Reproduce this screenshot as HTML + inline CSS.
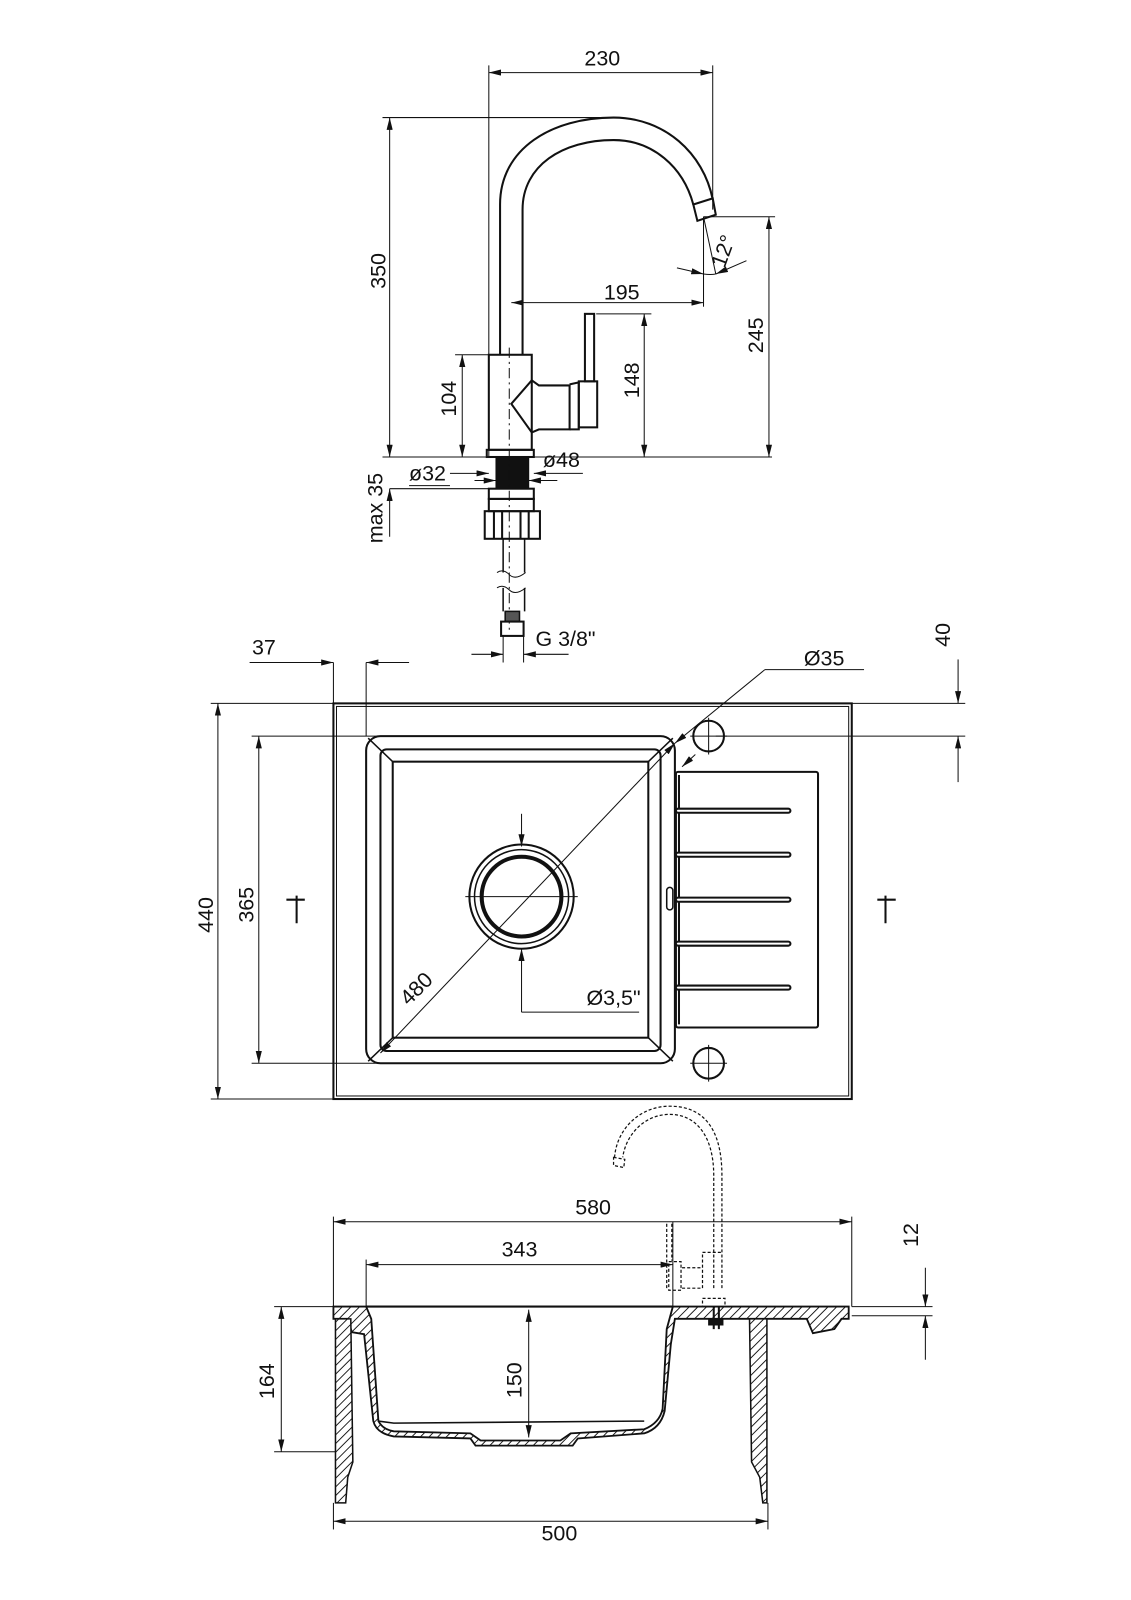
<!DOCTYPE html>
<html><head><meta charset="utf-8"><style>
html,body{margin:0;padding:0;background:#fff;}
svg{display:block}
text{font-family:"Liberation Sans Narrow","Liberation Sans",sans-serif;font-size:21px;fill:#111}
</style></head><body>
<svg width="1131" height="1600" viewBox="0 0 1106 1565" xmlns="http://www.w3.org/2000/svg">
<defs>
<marker id="a" viewBox="0 0 12 6" refX="12" refY="3" markerWidth="12" markerHeight="6" orient="auto-start-reverse" markerUnits="userSpaceOnUse"><path d="M0,0 L12,3 L0,6z" fill="#111"/></marker>
<pattern id="h" width="6" height="6" patternUnits="userSpaceOnUse" patternTransform="rotate(45)"><rect width="6" height="6" fill="#fff"/><line x1="0" y1="0" x2="0" y2="6" stroke="#111" stroke-width="1.8"/></pattern>
</defs>
<g fill="none" stroke="#111" stroke-width="1">
<!-- ===== FAUCET ===== -->
<line x1="478" y1="71" x2="697" y2="71" marker-start="url(#a)" marker-end="url(#a)"/>
<line x1="478" y1="64" x2="478" y2="447"/><line x1="697" y1="64" x2="697" y2="205"/>
<line x1="381" y1="115" x2="381" y2="447" marker-start="url(#a)" marker-end="url(#a)"/>
<line x1="374" y1="115" x2="605" y2="115"/>
<line x1="374" y1="447" x2="755" y2="447"/>
<line x1="452" y1="347" x2="452" y2="447" marker-start="url(#a)" marker-end="url(#a)"/>
<line x1="445" y1="347" x2="478" y2="347"/>
<line x1="630" y1="307" x2="630" y2="447" marker-start="url(#a)" marker-end="url(#a)"/>
<line x1="583" y1="307" x2="637" y2="307"/>
<line x1="752" y1="212" x2="752" y2="447" marker-start="url(#a)" marker-end="url(#a)"/>
<line x1="688" y1="212" x2="758" y2="212"/>
<line x1="500" y1="296" x2="688" y2="296" marker-start="url(#a)" marker-end="url(#a)"/>
<line x1="688" y1="212" x2="688" y2="300"/>
<line x1="688" y1="212" x2="700" y2="268"/>
<path d="M662,262 L688,268" marker-end="url(#a)"/>
<path d="M730,255 L700,268" marker-end="url(#a)"/>
<path d="M688,268 Q695,269 700,268"/>
<g stroke-width="2">
<path d="M489,347 L489,200 C489,145 540,115 600,115 C650,115 688,150 697,195"/>
<path d="M511,347 L511,205 C511,162 550,137 600,137 C638,137 668,163 678,200"/>
<path d="M678,200 L697,194 L700,210 L682,216 Z"/>
<rect x="478" y="347" width="42" height="93"/>
<rect x="476" y="440" width="46" height="7"/>
<path d="M520,372 L500,395 L520,423"/>
<path d="M520,372 L527,377 L557,377 L557,420 L527,420 L520,423"/>
<path d="M557,376 L566,374 L566,420 L557,420"/>
<rect x="566" y="373" width="18" height="45"/>
<rect x="572" y="307" width="9" height="66"/>
<rect x="478" y="478" width="44" height="10"/>
<rect x="478" y="488" width="44" height="12"/>
<rect x="474" y="500" width="54" height="27"/>
<path d="M483,500 V527 M491,500 V527 M509,500 V527 M517,500 V527"/>
</g>
<rect x="485" y="447" width="32" height="31" fill="#111"/>
<line x1="498" y1="340" x2="498" y2="620" stroke-dasharray="10,4,2,4"/>
<path d="M492,527 V560 M513,527 V560 M492,575 V598 M513,575 V598" stroke-width="1.5"/>
<path d="M486,560 Q492,556 498,562 T514,560 M486,575 Q492,571 498,577 T514,575" />
<rect x="494" y="598" width="14" height="10" fill="#555" stroke-width="1.5"/>
<rect x="490" y="608" width="22" height="14" stroke-width="2"/>
<line x1="461" y1="640" x2="492" y2="640" marker-end="url(#a)"/>
<line x1="556" y1="640" x2="512" y2="640" marker-end="url(#a)"/>
<line x1="492" y1="622" x2="492" y2="648"/><line x1="512" y1="622" x2="512" y2="648"/>
<line x1="440" y1="463" x2="478" y2="463" marker-end="url(#a)"/>
<line x1="570" y1="463" x2="522" y2="463" marker-end="url(#a)"/>
<line x1="464" y1="470" x2="485" y2="470" marker-end="url(#a)"/>
<line x1="545" y1="470" x2="517" y2="470" marker-end="url(#a)"/>
<line x1="381" y1="478" x2="478" y2="478"/>
<line x1="381" y1="525" x2="381" y2="478" marker-end="url(#a)"/>
<line x1="400" y1="475" x2="440" y2="475"/>
</g>
<text x="589" y="64" text-anchor="middle">230</text>
<text transform="translate(377,265) rotate(-90)" text-anchor="middle">350</text>
<text x="608" y="293" text-anchor="middle">195</text>
<text transform="translate(714,248) rotate(-70)" text-anchor="middle">12°</text>
<text transform="translate(746,328) rotate(-90)" text-anchor="middle">245</text>
<text transform="translate(446,390) rotate(-90)" text-anchor="middle">104</text>
<text transform="translate(625,372) rotate(-90)" text-anchor="middle">148</text>
<text x="418" y="470" text-anchor="middle">ø32</text>
<text x="549" y="457" text-anchor="middle">ø48</text>
<text transform="translate(374,497) rotate(-90)" text-anchor="middle">max 35</text>
<text x="553" y="632" text-anchor="middle">G 3/8"</text>

<!-- ===== PLAN ===== -->
<g fill="none" stroke="#111" stroke-width="1">
<rect x="326" y="688" width="507" height="387" stroke-width="2"/>
<rect x="329" y="691" width="501" height="381"/>
<line x1="326" y1="648" x2="326" y2="688"/><line x1="358" y1="648" x2="358" y2="720"/>
<line x1="244" y1="648" x2="326" y2="648" marker-end="url(#a)"/>
<line x1="400" y1="648" x2="358" y2="648" marker-end="url(#a)"/>
<line x1="213" y1="688" x2="213" y2="1075" marker-start="url(#a)" marker-end="url(#a)"/>
<line x1="206" y1="688" x2="326" y2="688"/><line x1="206" y1="1075" x2="326" y2="1075"/>
<line x1="253" y1="720" x2="253" y2="1040" marker-start="url(#a)" marker-end="url(#a)"/>
<line x1="246" y1="720" x2="375" y2="720"/><line x1="246" y1="1040" x2="375" y2="1040"/>
<line x1="833" y1="688" x2="944" y2="688"/><line x1="700" y1="720" x2="944" y2="720"/>
<line x1="937" y1="645" x2="937" y2="688" marker-end="url(#a)"/>
<line x1="937" y1="765" x2="937" y2="720" marker-end="url(#a)"/>
<g stroke-width="2">
<rect x="358" y="720" width="302" height="320" rx="14"/>
<rect x="372" y="733" width="274" height="295" rx="6"/>
<rect x="384" y="745" width="250" height="270"/>
</g>
<path d="M360,722 L384,745 M658,722 L634,745 M360,1038 L384,1015 M658,1038 L634,1015" stroke-width="1.5"/>
<circle cx="510" cy="877" r="51" stroke-width="2"/>
<circle cx="510" cy="877" r="46" stroke-width="1.5"/>
<circle cx="510" cy="877" r="39" stroke-width="4"/>
<line x1="455" y1="877" x2="565" y2="877"/>
<line x1="510" y1="796" x2="510" y2="828" marker-end="url(#a)"/>
<line x1="510" y1="990" x2="510" y2="928" marker-end="url(#a)"/>
<line x1="510" y1="990" x2="625" y2="990"/>
<line x1="372" y1="1030" x2="660" y2="727" marker-start="url(#a)" marker-end="url(#a)"/>
<line x1="660" y1="727" x2="748" y2="655" marker-start="url(#a)"/>
<line x1="748" y1="655" x2="845" y2="655"/>
<path d="M680,738 L667,750" marker-end="url(#a)"/>
<rect x="661" y="755" width="139" height="250" rx="2" stroke-width="2"/>
<line x1="664" y1="758" x2="664" y2="1002" stroke-width="2"/>
<g stroke-width="6" stroke-linecap="round">
<line x1="663" y1="793" x2="771" y2="793"/><line x1="663" y1="836" x2="771" y2="836"/>
<line x1="663" y1="880" x2="771" y2="880"/><line x1="663" y1="923" x2="771" y2="923"/>
<line x1="663" y1="966" x2="771" y2="966"/>
</g>
<g stroke="#fff" stroke-width="2" stroke-linecap="round">
<line x1="663" y1="793" x2="771" y2="793"/><line x1="663" y1="836" x2="771" y2="836"/>
<line x1="663" y1="880" x2="771" y2="880"/><line x1="663" y1="923" x2="771" y2="923"/>
<line x1="663" y1="966" x2="771" y2="966"/>
</g>
<rect x="652" y="868" width="6" height="22" rx="3" stroke-width="1.5"/>
<circle cx="693" cy="720" r="15" stroke-width="2"/>
<circle cx="693" cy="1040" r="15" stroke-width="2"/>
<path d="M675,720 H711 M693,702 V738 M675,1040 H711 M693,1022 V1058"/>
<path d="M290,876 V903 M280,880 H298 M866,876 V903 M858,880 H876" stroke-width="2"/>
</g>
<text x="258" y="640" text-anchor="middle">37</text>
<text transform="translate(929,621) rotate(-90)" text-anchor="middle">40</text>
<text x="806" y="651" text-anchor="middle">Ø35</text>
<text transform="translate(208,895) rotate(-90)" text-anchor="middle">440</text>
<text transform="translate(248,885) rotate(-90)" text-anchor="middle">365</text>
<text transform="translate(412,972) rotate(-45)" text-anchor="middle">480</text>
<text x="600" y="983" text-anchor="middle">Ø3,5"</text>

<!-- ===== SECTION ===== -->
<g fill="none" stroke="#111" stroke-width="1">
<line x1="326" y1="1195" x2="833" y2="1195" marker-start="url(#a)" marker-end="url(#a)"/>
<line x1="326" y1="1190" x2="326" y2="1278"/><line x1="833" y1="1190" x2="833" y2="1278"/>
<line x1="358" y1="1237" x2="658" y2="1237" marker-start="url(#a)" marker-end="url(#a)"/>
<line x1="358" y1="1232" x2="358" y2="1278"/><line x1="658" y1="1195" x2="658" y2="1278"/>
<line x1="268" y1="1278" x2="326" y2="1278"/><line x1="268" y1="1420" x2="340" y2="1420"/>
<line x1="275" y1="1278" x2="275" y2="1420" marker-start="url(#a)" marker-end="url(#a)"/>
<line x1="517" y1="1281" x2="517" y2="1406" marker-start="url(#a)" marker-end="url(#a)"/>
<line x1="833" y1="1278" x2="912" y2="1278"/><line x1="833" y1="1287" x2="912" y2="1287"/>
<line x1="905" y1="1240" x2="905" y2="1278" marker-end="url(#a)"/>
<line x1="905" y1="1330" x2="905" y2="1287" marker-end="url(#a)"/>
<line x1="326" y1="1470" x2="326" y2="1496"/><line x1="751" y1="1470" x2="751" y2="1496"/>
<line x1="326" y1="1488" x2="751" y2="1488" marker-start="url(#a)" marker-end="url(#a)"/>
<line x1="358" y1="1278" x2="658" y2="1278" stroke-width="2"/>
<path d="M326,1278 L358,1278 L363,1290 L370,1390 Q374,1398 385,1400 L460,1402 L470,1409 L548,1409 L558,1402 L630,1398 Q645,1392 648,1378 L652,1300 L658,1278 L830,1278 L830,1290 L823,1290 L816,1300 L795,1304 L789,1290 L660,1290 L656,1315 L650,1380 Q646,1397 630,1402 L565,1407 L560,1414 L465,1414 L460,1407 L385,1405 Q368,1402 365,1390 L356,1305 L344,1303 L340,1290 L326,1290 Z" fill="url(#h)" stroke-width="1.8"/>
<path d="M370,1390 L385,1392 L630,1390" stroke-width="1.5"/>
<path d="M328,1290 L343,1290 L345,1430 L340,1445 L338,1470 L328,1470 Z" fill="url(#h)" stroke-width="1.5"/>
<path d="M733,1290 L750,1290 L750,1470 L746,1470 L743,1445 L735,1430 Z" fill="url(#h)" stroke-width="1.5"/>
<g stroke-dasharray="3,2" stroke-width="1.2">
<path d="M698,1260 L698,1150 C698,1110 680,1090 655,1090 C630,1090 612,1110 609,1132"/>
<path d="M706,1260 L706,1150 C706,1100 685,1082 655,1082 C625,1082 603,1105 601,1132"/>
<path d="M600,1132 L611,1134 L610,1142 L600,1140 Z"/>
<path d="M687,1260 V1225 L706,1225 M667,1240 L687,1240 M667,1260 H687"/>
<rect x="654" y="1234" width="12" height="28"/>
<path d="M652,1197 V1260 M657,1197 V1233"/>
<rect x="687" y="1270" width="22" height="8"/>
</g>
<path d="M698,1278 V1300 M703,1278 V1300" stroke-width="2"/>
<rect x="693" y="1290" width="14" height="6" fill="#111"/>
</g>
<text x="580" y="1188" text-anchor="middle">580</text>
<text x="508" y="1229" text-anchor="middle">343</text>
<text transform="translate(898,1208) rotate(-90)" text-anchor="middle">12</text>
<text transform="translate(268,1351) rotate(-90)" text-anchor="middle">164</text>
<text transform="translate(510,1350) rotate(-90)" text-anchor="middle">150</text>
<text x="547" y="1507" text-anchor="middle">500</text>
</svg>
</body></html>
